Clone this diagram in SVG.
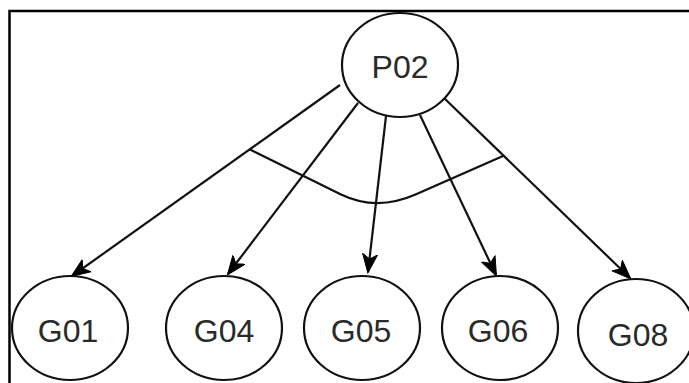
<svg xmlns="http://www.w3.org/2000/svg" width="689" height="383" viewBox="0 0 689 383">
  <style>
    .node ellipse { fill: #ffffff; stroke: #111111; stroke-width: 2.2; }
    .node text { font-family: "Liberation Sans", Arial, sans-serif; font-size: 32px; fill: #2a2a2a; text-anchor: middle; dominant-baseline: central; }
    .edge { fill: none; stroke: #111111; stroke-width: 2.2; }
    .frame { fill: none; stroke: #000000; stroke-width: 2.5; }
  </style>
  <defs>
    <marker id="arrow" markerUnits="userSpaceOnUse" markerWidth="20" markerHeight="18" viewBox="0 0 20 18" refX="18" refY="9" orient="auto">
      <path d="M0,1.5 L19,9 L0,16.5 L5,9 z" fill="#000000" stroke="#000000" stroke-width="1"/>
    </marker>
  </defs>
  <rect width="689" height="383" fill="#ffffff"/>

  <!-- frame edges -->
  <path class="frame" d="M9.5 383 L9.5 11 L689 11"/>

  <g id="connectors">
    <line class="edge" x1="340" y1="85" x2="72" y2="276" marker-end="url(#arrow)"/>
    <line class="edge" x1="358" y1="103" x2="228" y2="274" marker-end="url(#arrow)"/>
    <line class="edge" x1="386" y1="116" x2="368" y2="272" marker-end="url(#arrow)"/>
    <line class="edge" x1="420" y1="115" x2="496" y2="275" marker-end="url(#arrow)"/>
    <line class="edge" x1="444" y1="98" x2="630" y2="278" marker-end="url(#arrow)"/>
    <!-- grouping arc across the fan of edges -->
    <path class="edge" d="M249 149 L341 194.5 Q376.5 211.6 415.5 194.5 L503 156"/>
  </g>

  <g id="P02" class="node">
    <ellipse cx="400" cy="65" rx="58" ry="52"/>
    <text x="400" y="67">P02</text>
  </g>
  <g id="G01" class="node">
    <ellipse cx="70" cy="328" rx="58" ry="52"/>
    <text x="68" y="331">G01</text>
  </g>
  <g id="G04" class="node">
    <ellipse cx="224" cy="328" rx="58" ry="52"/>
    <text x="224" y="331">G04</text>
  </g>
  <g id="G05" class="node">
    <ellipse cx="362" cy="328" rx="58" ry="52"/>
    <text x="361" y="331">G05</text>
  </g>
  <g id="G06" class="node">
    <ellipse cx="500" cy="328" rx="58" ry="52"/>
    <text x="498" y="331">G06</text>
  </g>
  <g id="G08" class="node">
    <ellipse cx="636" cy="331" rx="58" ry="52"/>
    <text x="638" y="335">G08</text>
  </g>
</svg>
